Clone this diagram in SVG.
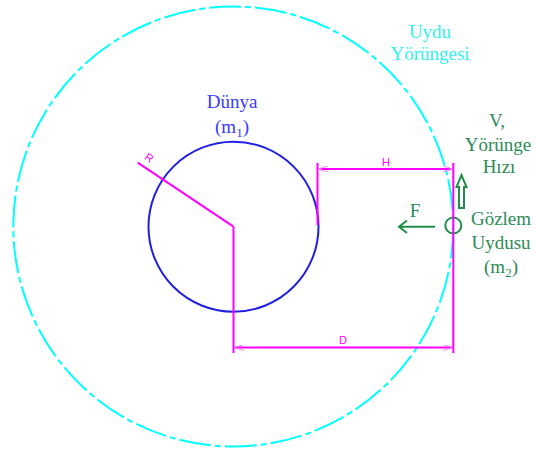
<svg xmlns="http://www.w3.org/2000/svg" width="536" height="450" viewBox="0 0 536 450">
<defs>
<style>
.serif{font-family:"Liberation Serif","Times New Roman",serif;font-size:19px;text-anchor:middle}
.dim{font-family:"Liberation Sans",Arial,sans-serif;font-size:11px;fill:#ff00ff;text-anchor:middle}
.mag{stroke:#ff00ff;stroke-width:2;fill:none}
.grn{stroke:#1f8f4a;stroke-width:2;fill:none}
</style>
<marker id="dimArrow" viewBox="0 0 10 6" refX="10" refY="3" markerWidth="10" markerHeight="6" markerUnits="userSpaceOnUse" orient="auto-start-reverse">
<path d="M0,0 L10,3 L0,6" fill="none" stroke="#ff80ff" stroke-width="1"/>
</marker>
</defs>
<rect width="536" height="450" fill="#ffffff"/>
<g id="orbit">
<circle cx="233.3" cy="226.5" r="220" fill="none" stroke="#00ffff" stroke-width="2" stroke-dasharray="32 4 6 4"/>
<text class="serif" x="430" y="38" fill="#33f0f0">Uydu</text>
<text class="serif" x="430" y="60" fill="#33f0f0">Yörüngesi</text>
</g>
<g id="earth">
<circle cx="233.5" cy="226.7" r="85" fill="none" stroke="#2020e0" stroke-width="2"/>
<text class="serif" x="232" y="108" fill="#3a3aff">Dünya</text>
<text class="serif" x="232" y="133" fill="#3a3aff">(m<tspan font-size="13" dy="4">1</tspan><tspan dy="-4">)</tspan></text>
</g>
<g id="satellite">
<circle cx="453.3" cy="225.5" r="8" fill="none" stroke="#1f8f4a" stroke-width="2"/>
<text class="serif" x="501" y="225" fill="#2e8b57">Gözlem</text>
<text class="serif" x="501" y="249" fill="#2e8b57">Uydusu</text>
<text class="serif" x="501" y="273" fill="#2e8b57">(m<tspan font-size="13" dy="4">2</tspan><tspan dy="-4">)</tspan></text>
</g>
<g id="velocity">
<path class="grn" d="M459,208 L459,187 L456.5,187 L461.5,175 L466.5,187 L464,187 L464,208 Z"/>
<text class="serif" x="497" y="127" fill="#2e8b57">V,</text>
<text class="serif" x="498" y="151" fill="#2e8b57">Yörünge</text>
<text class="serif" x="499" y="173" fill="#2e8b57">Hızı</text>
</g>
<g id="force">
<path class="grn" d="M435,226.7 L399,226.7 M407,220.5 L399,226.7 L407,233"/>
<text class="serif" x="415" y="217" fill="#2e8b57">F</text>
</g>
<g id="connectors">
<line class="mag" x1="233.5" y1="226.7" x2="137.7" y2="162.7"/>
<text class="dim" transform="translate(147,161) rotate(34)">R</text>
<polyline class="mag" points="233.5,226.7 233.5,353"/>
<line class="mag" x1="453.3" y1="163" x2="453.3" y2="353"/>
<line class="mag" x1="317.5" y1="163" x2="317.5" y2="225"/>
<line class="mag" x1="318" y1="169" x2="453" y2="169" marker-start="url(#dimArrow)" marker-end="url(#dimArrow)"/>
<text class="dim" x="386" y="166">H</text>
<line class="mag" x1="234" y1="347.5" x2="453" y2="347.5" marker-start="url(#dimArrow)" marker-end="url(#dimArrow)"/>
<text class="dim" x="343" y="344">D</text>
</g>
</svg>
